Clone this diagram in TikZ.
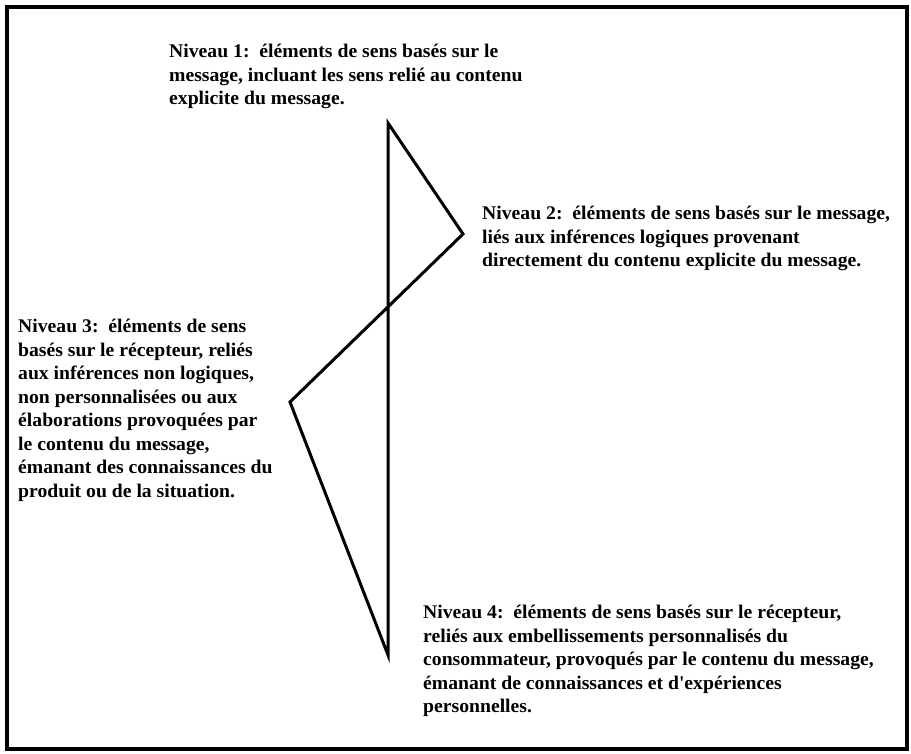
\documentclass[tikz,border=0pt]{standalone}
\usepackage{fontspec}
\setmainfont[FakeStretch=1.02]{Liberation Serif}
\begin{document}
\begin{tikzpicture}[x=1pt,y=-1pt,
  lvl/.style={anchor=north west,inner sep=0pt,align=left,
    font=\fontsize{19.3}{23.5}\selectfont\bfseries},
  zig/.style={line width=3pt,line join=miter}]
\useasboundingbox (0,0) rectangle (911,753);
\draw[line width=3.5pt] (7,7) rectangle (907,749);
\node[lvl] (n1) at (169,44) {Niveau 1:\ \ éléments de sens basés sur le\\message, incluant les sens relié au contenu\\explicite du message.};
\node[lvl] (n2) at (482,206) {Niveau 2:\ \ éléments de sens basés sur le message,\\liés aux inférences logiques provenant\\directement du contenu explicite du message.};
\node[lvl] (n3) at (18,319) {Niveau 3:\ \ éléments de sens\\basés sur le récepteur, reliés\\aux inférences non logiques,\\non personnalisées ou aux\\élaborations provoquées par\\le contenu du message,\\émanant des connaissances du\\produit ou de la situation.};
\node[lvl] (n4) at (423,605) {Niveau 4:\ \ éléments de sens basés sur le récepteur,\\reliés aux embellissements personnalisés du\\consommateur, provoqués par le contenu du message,\\émanant de connaissances et d\textquotesingle expériences\\personnelles.};
\coordinate (t) at (388,123);
\coordinate (r) at (463,234);
\coordinate (l) at (290,402);
\coordinate (b) at (388,655);
\draw[zig] (t) -- (r) -- (l) -- (b) -- cycle;
\end{tikzpicture}
\end{document}
